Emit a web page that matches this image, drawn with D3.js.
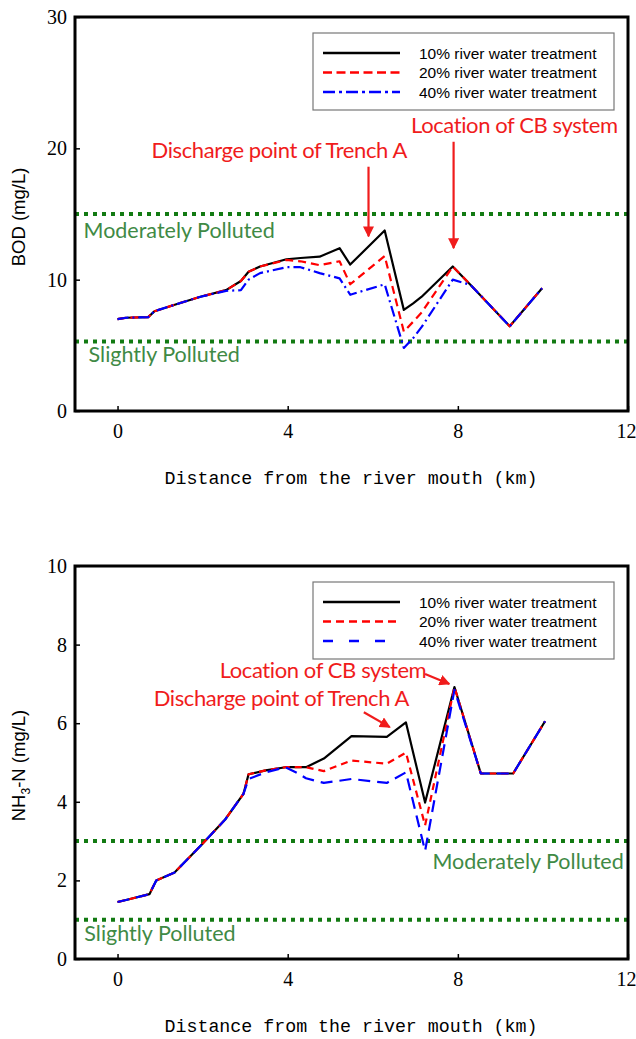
<!DOCTYPE html>
<html>
<head>
<meta charset="utf-8">
<script src="https://cdn.jsdelivr.net/npm/d3@7"></script>
<style>
  body { margin: 0; background: #fff; }
  svg { display: block; }
</style>
</head>
<body>
<div id="chart"></div>
<script>
//// data
// BOD panel
const bodKm   = [0, 0.2, 0.72, 0.87, 1.4, 1.95, 2.55, 2.9, 3.08, 3.35, 3.97, 4.3, 4.75, 5.22, 5.47, 6.28, 6.73, 6.95, 7.15, 7.88, 8.3, 9.22, 9.98]
const bod10   = [7.0, 7.1, 7.15, 7.6, 8.15, 8.7, 9.2, 9.9, 10.6, 11.0, 11.55, 11.65, 11.75, 12.4, 11.15, 13.75, 7.7, 8.2, 8.7, 11.0, 9.6, 6.45, 9.35]
const bod20   = [7.0, 7.1, 7.15, 7.6, 8.15, 8.7, 9.2, 9.9, 10.6, 11.0, 11.5, 11.4, 11.1, 11.4, 9.65, 11.8, 6.05, 6.8, 7.5, 11.0, 9.6, 6.45, 9.35]
const bod40   = [7.0, 7.1, 7.15, 7.6, 8.15, 8.7, 9.15, 9.2, 10.0, 10.5, 10.95, 10.95, 10.5, 10.1, 8.85, 9.65, 4.8, 5.55, 6.4, 10.0, 9.6, 6.45, 9.35]
const bodTicks = [0, 10, 20, 30]
const bodLimits = [15, 5.3]   // moderately / slightly polluted

// NH3-N panel
const nhKm  = [0, 0.2, 0.75, 0.91, 1.34, 1.97, 2.53, 2.96, 3.08, 3.48, 3.95, 4.25, 4.43, 4.85, 5.5, 6.33, 6.78, 7.23, 7.92, 8.54, 9.3, 10.05]
const nh10  = [1.45, 1.5, 1.65, 2.0, 2.2, 2.9, 3.55, 4.2, 4.7, 4.8, 4.88, 4.88, 4.88, 5.1, 5.67, 5.65, 6.02, 3.98, 6.92, 4.72, 4.72, 6.05]
const nh20  = [1.45, 1.5, 1.65, 2.0, 2.2, 2.9, 3.55, 4.2, 4.7, 4.8, 4.88, 4.88, 4.88, 4.78, 5.05, 4.97, 5.25, 3.4, 6.92, 4.72, 4.72, 6.05]
const nh40  = [1.45, 1.5, 1.65, 2.0, 2.2, 2.9, 3.55, 4.2, 4.58, 4.75, 4.88, 4.72, 4.6, 4.48, 4.58, 4.48, 4.75, 2.75, 6.85, 4.72, 4.72, 6.05]
const nhTicks = [0, 2, 4, 6, 8, 10]
const nhLimits = [3, 1]

const kmTicks = [0, 4, 8, 12]
const seriesNames = ["10% river water treatment", "20% river water treatment", "40% river water treatment"]
const xTitle = "Distance from the river mouth (km)"

const W = 636, H = 1039
const svg = d3.select("#chart").append("svg").attr("width", W).attr("height", H)

const redText = "#f01c1c"
const greenLine = "#127a12"
const greenText = "#3f8a45"

function drawPanel(cfg) {
    let g = svg.append("g")
    let x = d3.scaleLinear().domain([-1, 12]).range([cfg.left, 628])
    let y = d3.scaleLinear().domain([0, cfg.yMax]).range([cfg.bottom, cfg.top])

    // axes with inward ticks
    g.append("g")
        .attr("transform", `translate(0,${cfg.bottom})`)
        .call(d3.axisBottom(x).tickValues(kmTicks).tickSize(-5).tickPadding(13))
        .call(a => a.select(".domain").remove())
        .call(a => a.selectAll("line").attr("stroke", "#000").attr("stroke-width", 1.5))
        .call(a => a.selectAll("text").attr("font-family", "Liberation Serif").attr("font-size", 20).attr("fill", "#000"))
        // last label sits against the page edge, as in the original
        .call(a => a.selectAll("text").filter(d => d === 12).attr("text-anchor", "end").attr("dx", 8))
    g.append("g")
        .attr("transform", `translate(${cfg.left},0)`)
        .call(d3.axisLeft(y).tickValues(cfg.yTicks).tickSize(-5).tickPadding(8))
        .call(a => a.select(".domain").remove())
        .call(a => a.selectAll("line").attr("stroke", "#000").attr("stroke-width", 1.5))
        .call(a => a.selectAll("text").attr("font-family", "Liberation Serif").attr("font-size", 20).attr("fill", "#000"))

    // pollution thresholds
    cfg.limits.forEach(v => {
        g.append("line")
            .attr("x1", x(-1)).attr("x2", x(12))
            .attr("y1", y(v)).attr("y2", y(v))
            .attr("stroke", greenLine).attr("stroke-width", 4)
            .attr("stroke-dasharray", "4,5")
    })
    cfg.limitLabels.forEach(l => {
        g.append("text")
            .attr("x", x(l.x)).attr("y", y(l.y))
            .attr("text-anchor", l.anchor || "start")
            .attr("font-family", "Lato").attr("font-size", 21.5)
            .attr("fill", greenText)
            .text(l.text)
    })

    // curves
    let line = d3.line().x(d => x(d[0])).y(d => y(d[1]))
    cfg.series.forEach((s, i) => {
        g.append("path")
            .datum(d3.zip(cfg.km, s))
            .attr("fill", "none")
            .attr("stroke", cfg.colors[i])
            .attr("stroke-width", 2.2)
            .attr("stroke-dasharray", cfg.dashes[i])
            .attr("stroke-linejoin", "round")
            .attr("d", line)
    })

    // frame
    g.append("rect")
        .attr("x", x(-1)).attr("y", y(cfg.yMax))
        .attr("width", x(12) - x(-1)).attr("height", y(0) - y(cfg.yMax))
        .attr("fill", "none").attr("stroke", "#000").attr("stroke-width", 3)

    // legend
    let lg = g.append("g").attr("transform", `translate(313,${cfg.legendTop})`)
    lg.append("rect").attr("width", 301).attr("height", 77)
        .attr("fill", "#fff").attr("stroke", "#777").attr("stroke-width", 1.2)
    seriesNames.forEach((n, i) => {
        let yy = 20 + i * 19.5
        lg.append("line").attr("x1", 10).attr("x2", 87).attr("y1", yy).attr("y2", yy)
            .attr("stroke", cfg.colors[i]).attr("stroke-width", 2.5)
            .attr("stroke-dasharray", cfg.legendDashes[i])
        lg.append("text").attr("x", 106).attr("y", yy + 5.5)
            .attr("font-family", "Liberation Sans").attr("font-size", 15.5)
            .attr("fill", "#000").text(n)
    })

    // annotations
    svg.append("defs").append("marker")
        .attr("id", "head" + cfg.id).attr("viewBox", "0 0 10 10")
        .attr("refX", 9).attr("refY", 5)
        .attr("markerWidth", 5).attr("markerHeight", 5)
        .attr("markerUnits", "strokeWidth")
        .attr("orient", "auto")
        .append("path").attr("d", "M0,0L10,5L0,10Z").attr("fill", redText)
    cfg.arrows.forEach(a => {
        g.append("line")
            .attr("x1", x(a[0])).attr("y1", y(a[1]))
            .attr("x2", x(a[2])).attr("y2", y(a[3]))
            .attr("stroke", redText).attr("stroke-width", 2.2)
            .attr("marker-end", `url(#head${cfg.id})`)
    })
    cfg.notes.forEach(n => {
        g.append("text")
            .attr("x", x(n.x)).attr("y", y(n.y))
            .attr("font-family", "Lato").attr("font-size", 22)
            .attr("letter-spacing", -0.4)
            .attr("fill", redText)
            .text(n.text)
    })

    // titles
    g.append("text")
        .attr("x", 351).attr("y", cfg.bottom + 73)
        .attr("text-anchor", "middle")
        .attr("font-family", "Liberation Mono").attr("font-size", 18.3)
        .attr("fill", "#000")
        .text(xTitle)
    let yt = g.append("text")
        .attr("transform", `translate(25,${(cfg.top + cfg.bottom) / 2 + 3}) rotate(-90)`)
        .attr("text-anchor", "middle")
        .attr("font-family", "Liberation Sans").attr("font-size", 18.5)
        .attr("fill", "#000")
    cfg.yTitle(yt)
}

drawPanel({
    id: "bod", left: 75, top: 17, bottom: 411, yMax: 30, yTicks: bodTicks,
    km: bodKm, series: [bod10, bod20, bod40],
    colors: ["#000", "#ff0000", "#0000ff"],
    dashes: [null, "8,5", "11,4,2,4"],
    legendDashes: [null, "9,4.5", "12,4,3,4"],
    legendTop: 33,
    limits: bodLimits,
    limitLabels: [
        {x: -0.8, y: 13.2, text: "Moderately Polluted"},
        {x: -0.68, y: 3.75, text: "Slightly Polluted"}
    ],
    arrows: [[5.9, 18.6, 5.9, 13.3], [7.9, 20.5, 7.9, 12.4]],
    notes: [
        {x: 0.8, y: 19.3, text: "Discharge point of Trench A"},
        {x: 6.9, y: 21.2, text: "Location of CB system"}
    ],
    yTitle: t => t.text("BOD (mg/L)")
})

drawPanel({
    id: "nh", left: 75, top: 566, bottom: 959, yMax: 10, yTicks: nhTicks,
    km: nhKm, series: [nh10, nh20, nh40],
    colors: ["#000", "#ff0000", "#0000ff"],
    dashes: [null, "7,5", "12,7"],
    legendDashes: [null, "8,5", "10,16"],
    legendTop: 582,
    limits: nhLimits,
    limitLabels: [
        {x: 11.9, y: 2.3, text: "Moderately Polluted", anchor: "end"},
        {x: -0.78, y: 0.45, text: "Slightly Polluted"}
    ],
    arrows: [[7.23, 7.25, 7.8, 7.0], [5.79, 6.28, 6.4, 5.9]],
    notes: [
        {x: 2.4, y: 7.15, text: "Location of CB system"},
        {x: 0.85, y: 6.45, text: "Discharge point of Trench A"}
    ],
    yTitle: t => {
        t.append("tspan").text("NH")
        t.append("tspan").attr("font-size", 12).attr("dy", 5).text("3")
        t.append("tspan").attr("dy", -5).text("-N (mg/L)")
    }
})
</script>
</body>
</html>
